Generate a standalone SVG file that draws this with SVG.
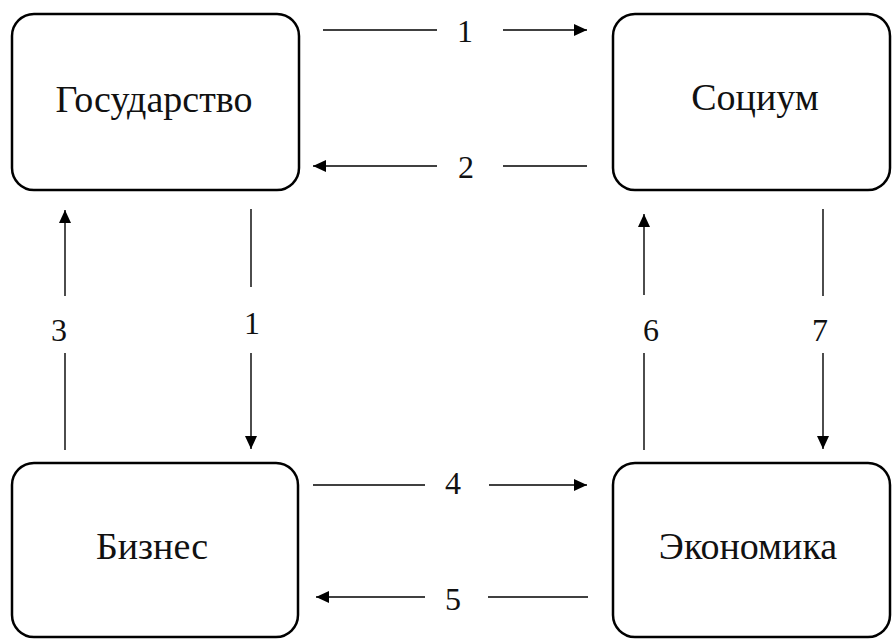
<svg xmlns="http://www.w3.org/2000/svg" width="892" height="643" viewBox="0 0 892 643">
<style>
.box{fill:#fff;stroke:#000;stroke-width:2.5}
.lbl{font-family:'Liberation Serif','Times New Roman','DejaVu Serif',serif;font-size:38px;fill:#111;text-anchor:middle}
.num{font-family:'Liberation Serif','Times New Roman','DejaVu Serif',serif;font-size:32px;fill:#111;text-anchor:middle}
.ln{stroke:#000;stroke-width:1.4;fill:none}
</style>
<defs>
<marker id="ah" markerUnits="userSpaceOnUse" markerWidth="13" markerHeight="12" refX="13" refY="6" orient="auto">
<path d="M0,0 L13,6 L0,12 z" fill="#000"/>
</marker>
</defs>
<rect width="892" height="643" fill="#fff"/>
<g id="gosudarstvo"><rect class="box" x="12" y="14" width="287" height="176" rx="22"/><text class="lbl" x="154" y="112">Государство</text></g>
<g id="socium"><rect class="box" x="613" y="14" width="277" height="176" rx="22"/><text class="lbl" x="755" y="110">Социум</text></g>
<g id="biznes"><rect class="box" x="12" y="463" width="286" height="174" rx="22"/><text class="lbl" x="152" y="559">Бизнес</text></g>
<g id="ekonomika"><rect class="box" x="613" y="463" width="277" height="174" rx="22"/><text class="lbl" x="748" y="559">Экономика</text></g>
<g id="connectors">
<line class="ln" x1="323" y1="30" x2="437" y2="30"/>
<line class="ln" x1="503" y1="30" x2="587" y2="30" marker-end="url(#ah)"/>
<text class="num" x="465" y="42">1</text>
<line class="ln" x1="587" y1="166" x2="503" y2="166"/>
<line class="ln" x1="437" y1="166" x2="313" y2="166" marker-end="url(#ah)"/>
<text class="num" x="466" y="178">2</text>
<line class="ln" x1="65" y1="450" x2="65" y2="353"/>
<line class="ln" x1="65" y1="296" x2="65" y2="210" marker-end="url(#ah)"/>
<text class="num" x="59" y="341">3</text>
<line class="ln" x1="251" y1="209" x2="251" y2="287"/>
<line class="ln" x1="251" y1="353" x2="251" y2="449" marker-end="url(#ah)"/>
<text class="num" x="252" y="334">1</text>
<line class="ln" x1="644" y1="450" x2="644" y2="353"/>
<line class="ln" x1="644" y1="295" x2="644" y2="214" marker-end="url(#ah)"/>
<text class="num" x="651" y="341">6</text>
<line class="ln" x1="823" y1="209" x2="823" y2="296"/>
<line class="ln" x1="823" y1="353" x2="823" y2="449" marker-end="url(#ah)"/>
<text class="num" x="820" y="341">7</text>
<line class="ln" x1="313" y1="485" x2="425" y2="485"/>
<line class="ln" x1="489" y1="485" x2="587" y2="485" marker-end="url(#ah)"/>
<text class="num" x="453" y="494">4</text>
<line class="ln" x1="588" y1="597" x2="488" y2="597"/>
<line class="ln" x1="425" y1="597" x2="316" y2="597" marker-end="url(#ah)"/>
<text class="num" x="453" y="610">5</text>
</g>
</svg>
